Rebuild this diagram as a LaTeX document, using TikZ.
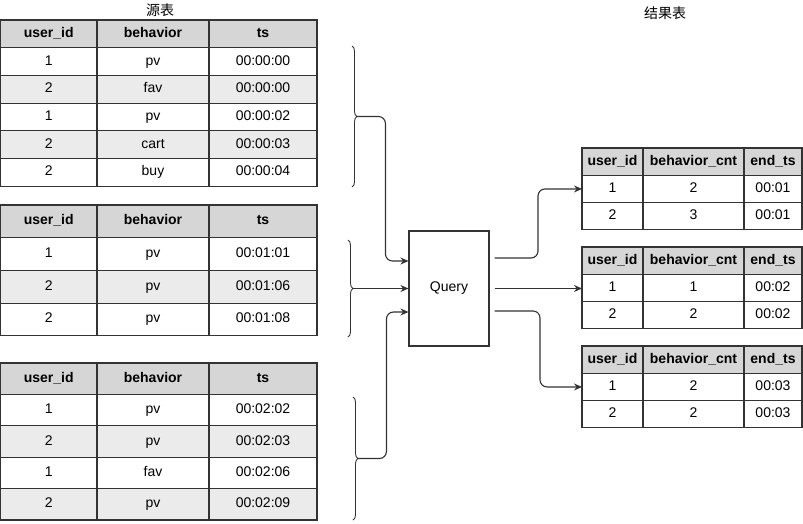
\documentclass[tikz,border=0pt]{standalone}
\usepackage{fontspec}
\setmainfont{Liberation Sans}
\newfontfamily\cjkfont{Noto Sans CJK SC}
\usetikzlibrary{arrows.meta,positioning,calc,decorations.pathreplacing}
\usepackage{xcolor}
\definecolor{headgray}{HTML}{D6D6D6}
\definecolor{rowgray}{HTML}{EBEBEB}
\definecolor{linegray}{HTML}{333333}

\begin{document}
\begin{tikzpicture}[x=1pt,y=-1pt,
	cell/.style={draw=linegray,line width=1.1pt,rectangle,anchor=north west,inner sep=0pt,outer sep=0pt,text height=9.5pt,text depth=2.5pt,font=\fontsize{14}{16}\selectfont},
	head/.style={cell,fill=headgray,font=\fontsize{14}{16}\selectfont\bfseries},
	uw/.style={minimum width=96.5pt},bw/.style={minimum width=112pt},tw/.style={minimum width=108pt},
	ru/.style={minimum width=61pt},rb/.style={minimum width=101pt},rt/.style={minimum width=58pt},
	link/.style={-{Stealth[length=8pt,width=7pt]},draw=linegray,line width=1.1pt,rounded corners=7pt},
	curly/.style={draw=linegray,line width=0.9pt,decorate,decoration={brace,amplitude=5pt}}]
	\useasboundingbox (0,0) rectangle (803,523);

	\node[font=\cjkfont\fontsize{14}{16}\selectfont] (srctitle) at (160,10) {源表};
	\node[font=\cjkfont\fontsize{14}{16}\selectfont] (restitle) at (665,13) {结果表};

	% source table 1
	\node[head,uw,minimum height=27.7pt] (s1u0) at (0.5,20) {user\_id};
	\node[head,bw,minimum height=27.7pt] (s1b0) at (97,20) {behavior};
	\node[head,tw,minimum height=27.7pt] (s1t0) at (209,20) {ts};
	\foreach \uid/\act/\ts/\bg [count=\r] in {1/pv/00:00:00/white,2/fav/00:00:00/rowgray,1/pv/00:00:02/white,2/cart/00:00:03/rowgray,2/buy/00:00:04/white}{
		\node[cell,uw,fill=\bg,minimum height=27.7pt] (s1u\r) at (0.5,20+27.7*\r) {\uid};
		\node[cell,bw,fill=\bg,minimum height=27.7pt] (s1b\r) at (97,20+27.7*\r) {\act};
		\node[cell,tw,fill=\bg,minimum height=27.7pt] (s1t\r) at (209,20+27.7*\r) {\ts};
	}

	% source table 2
	\node[head,uw,minimum height=32.7pt] (s2u0) at (0.5,205) {user\_id};
	\node[head,bw,minimum height=32.7pt] (s2b0) at (97,205) {behavior};
	\node[head,tw,minimum height=32.7pt] (s2t0) at (209,205) {ts};
	\foreach \uid/\act/\ts/\bg [count=\r] in {1/pv/00:01:01/white,2/pv/00:01:06/rowgray,2/pv/00:01:08/white}{
		\node[cell,uw,fill=\bg,minimum height=32.7pt] (s2u\r) at (0.5,205+32.7*\r) {\uid};
		\node[cell,bw,fill=\bg,minimum height=32.7pt] (s2b\r) at (97,205+32.7*\r) {\act};
		\node[cell,tw,fill=\bg,minimum height=32.7pt] (s2t\r) at (209,205+32.7*\r) {\ts};
	}

	% source table 3
	\node[head,uw,minimum height=31.4pt] (s3u0) at (0.5,363) {user\_id};
	\node[head,bw,minimum height=31.4pt] (s3b0) at (97,363) {behavior};
	\node[head,tw,minimum height=31.4pt] (s3t0) at (209,363) {ts};
	\foreach \uid/\act/\ts/\bg [count=\r] in {1/pv/00:02:02/white,2/pv/00:02:03/rowgray,1/fav/00:02:06/white,2/pv/00:02:09/rowgray}{
		\node[cell,uw,fill=\bg,minimum height=31.4pt] (s3u\r) at (0.5,363+31.4*\r) {\uid};
		\node[cell,bw,fill=\bg,minimum height=31.4pt] (s3b\r) at (97,363+31.4*\r) {\act};
		\node[cell,tw,fill=\bg,minimum height=31.4pt] (s3t\r) at (209,363+31.4*\r) {\ts};
	}

	% result tables
	\foreach \k/\top/\ca/\cb/\tm in {1/148/2/3/00:01,2/247/1/2/00:02,3/346/2/2/00:03}{
		\node[head,ru,minimum height=27.3pt] (r\k-u0) at (582,\top) {user\_id};
		\node[head,rb,minimum height=27.3pt] (r\k-b0) at (643,\top) {behavior\_cnt};
		\node[head,rt,minimum height=27.3pt] (r\k-t0) at (744,\top) {end\_ts};
		\node[cell,ru,minimum height=27.3pt] (r\k-u1) at (582,\top+27.3) {1};
		\node[cell,rb,minimum height=27.3pt] (r\k-b1) at (643,\top+27.3) {\ca};
		\node[cell,rt,minimum height=27.3pt] (r\k-t1) at (744,\top+27.3) {\tm};
		\node[cell,ru,minimum height=27.3pt] (r\k-u2) at (582,\top+54.6) {2};
		\node[cell,rb,minimum height=27.3pt] (r\k-b2) at (643,\top+54.6) {\cb};
		\node[cell,rt,minimum height=27.3pt] (r\k-t2) at (744,\top+54.6) {\tm};
	}

	% query
	\node[draw=linegray,line width=1.1pt,minimum width=80pt,minimum height=115pt,inner sep=0pt,font=\fontsize{14}{16}\selectfont] (q) at (449,288.5) {Query};

	% braces
	\draw[curly] (352,46) -- (352,187);
	\draw[curly] (348,240) -- (348,337);
	\draw[curly] (353,397) -- (353,520);
	\coordinate (b1) at (357,116.5);
	\coordinate (b2) at (353,288.5);
	\coordinate (b3) at (358,458.5);

	\draw[link] (b1) -| ($(q.west)+(-23,-27.5)$) -- ([yshift=27.5pt]q.west);
	\draw[link] (b2) -- (q.west);
	\draw[link] (b3) -| ($(q.west)+(-22,23.5)$) -- ([yshift=-23.5pt]q.west);

	\draw[link] ([xshift=5pt,yshift=30.5pt]q.east) -| ($(r1-u1.west)+(-44,0)$) -- (r1-u1.west);
	\draw[link] ([xshift=5pt]q.east) -- (q.east -| r2-u1.west);
	\draw[link] ([xshift=5pt,yshift=-22.5pt]q.east) -| ($(r3-u1.west)+(-42,0)$) -- (r3-u1.west);
\end{tikzpicture}
\end{document}
